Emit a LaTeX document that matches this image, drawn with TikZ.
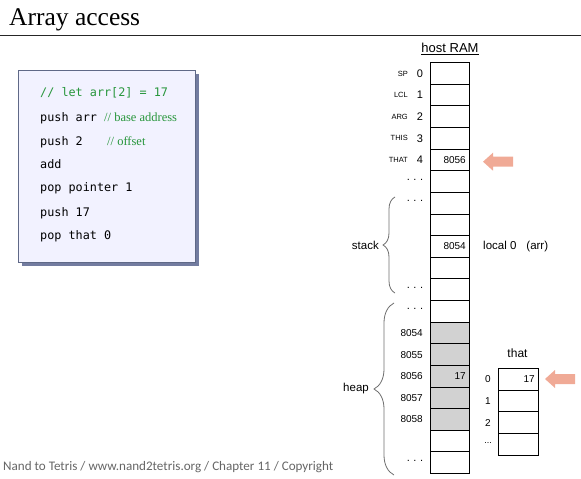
\documentclass[tikz,border=0pt]{standalone}
\usepackage{fontspec}
\setmainfont{Liberation Serif}
\setsansfont{Liberation Sans}
\setmonofont{DejaVu Sans Mono}
\newfontfamily\footfont{Carlito}
\usetikzlibrary{decorations.pathreplacing,shadows}

\definecolor{boxfill}{RGB}{242,242,255}
\definecolor{boxline}{RGB}{95,105,135}
\definecolor{boxshadow}{RGB}{100,110,150}
\definecolor{codegreen}{RGB}{40,150,60}
\definecolor{arrowpink}{RGB}{240,170,150}
\definecolor{heapgray}{RGB}{210,210,210}
\definecolor{bracegray}{RGB}{110,110,110}

\tikzset{
  ramcell/.style={draw=black, line width=1pt, minimum width=39pt, minimum height=21.62pt, inner sep=0pt, outer sep=0pt},
  thatcell/.style={draw=black, line width=1pt, minimum width=40pt, minimum height=21.7pt, inner sep=0pt, outer sep=0pt},
  codeline/.style={anchor=base west, inner sep=0pt, font=\ttfamily\fontsize{11.8}{12}\selectfont},
  comment/.style={anchor=base west, inner sep=0pt, text=codegreen, font=\rmfamily\fontsize{12.5}{13}\selectfont},
  regname/.style={anchor=east, inner sep=0pt, font=\sffamily\fontsize{7.5}{8}\selectfont},
  regnum/.style={inner sep=0pt, font=\sffamily\fontsize{11}{12}\selectfont},
  addr/.style={anchor=east, inner sep=0pt, font=\sffamily\fontsize{10}{11}\selectfont},
  cellval/.style={anchor=east, inner sep=0pt, font=\sffamily\fontsize{10}{11}\selectfont},
  dots/.style={inner sep=0pt, font=\sffamily\fontsize{11}{12}\selectfont},
  biglabel/.style={inner sep=0pt, font=\sffamily\fontsize{11.5}{12}\selectfont},
  membrace/.style={draw=bracegray, line width=0.8pt, decorate},
}

\newcommand{\threedots}{.\hspace{3.5pt}.\hspace{3.5pt}.}
% left-pointing block arrow whose tip sits at #1
\newcommand{\pointerarrow}[1]{%
  \fill[arrowpink] (#1) -- ++(10,-9) -- ++(0,4) -- ++(20,0) -- ++(0,10) -- ++(-20,0) -- ++(0,4) -- cycle;}

\begin{document}
\begin{tikzpicture}[x=1pt,y=-1pt]
\useasboundingbox (0,0) rectangle (581,479);

% title and rule
\node[anchor=base west, inner sep=0pt, font=\rmfamily\fontsize{25.5}{26}\selectfont] (title) at (9,25.5) {Array access};
\draw[line width=1.3pt, black!85] (0,35.5) -- (581,35.5);

% code box
\node[draw=boxline, line width=1pt, fill=boxfill, minimum width=177pt, minimum height=192pt,
      drop shadow={shadow xshift=3.5pt, shadow yshift=-3.5pt, fill=boxshadow, opacity=0.9}] (code) at (106.5,166) {};

\node[codeline, text=codegreen] (c1) at (40,96) {// let arr[2] = 17};
\node[codeline] (c2) at (40,121) {push arr};
\node[comment] (c2c) at (104,121) {// base address};
\node[codeline] (c3) at (40,145) {push 2};
\node[comment] (c3c) at (107,145) {// offset};
\node[codeline] (c4) at (40,168) {add};
\node[codeline] (c5) at (40,191) {pop pointer 1};
\node[codeline] (c6) at (40,216) {push 17};
\node[codeline] (c7) at (40,239) {pop that 0};

% host RAM column
\node[inner sep=0pt, font=\sffamily\fontsize{13}{14}\selectfont] (ramtitle) at (450,49) {\underline{host RAM}};
\foreach \i in {0,...,18}{
  \pgfmathsetmacro{\yy}{62.7+21.62*\i+10.81}
  \ifnum\i>11 \ifnum\i<17
    \node[ramcell, fill=heapgray] (r\i) at (449.5,\yy) {};
  \else
    \node[ramcell] (r\i) at (449.5,\yy) {};
  \fi\else
    \node[ramcell] (r\i) at (449.5,\yy) {};
  \fi
}

% pointer registers
\foreach \i/\n in {0/SP,1/LCL,2/ARG,3/THIS,4/THAT}{
  \node[regname] (rn\i) at ([xshift=-22pt]r\i.west) {\n};
  \node[regnum] (ri\i) at ([xshift=-10pt]r\i.west) {\i};
}
\node[cellval] (v4) at ([xshift=-3pt]r4.east) {8056};
\node[dots] (d5) at ([xshift=-15pt,yshift=2pt]r5.west) {\threedots};

% stack segment
\node[dots] (d6) at ([xshift=-15pt,yshift=2pt]r6.west) {\threedots};
\node[dots] (d10) at ([xshift=-15pt,yshift=2pt]r10.west) {\threedots};
\node[cellval] (v8) at ([xshift=-3pt]r8.east) {8054};
\node[biglabel, anchor=west] (loc) at ([xshift=14pt]r8.east) {local 0\hspace{10pt}(arr)};
\coordinate (sb) at (395,293);
\coordinate (st) at (395,197);
\draw[membrace, decoration={brace, amplitude=12pt}] (sb) -- (st);
\node[biglabel, anchor=east] (stack) at (379,245.5) {stack};

% heap segment
\node[dots] (d11) at ([xshift=-15pt,yshift=2pt]r11.west) {\threedots};
\node[dots] (d18) at ([xshift=-15pt,yshift=2pt]r18.west) {\threedots};
\foreach \i/\a in {12/8054,13/8055,14/8056,15/8057,16/8058}{
  \node[addr] (a\i) at ([xshift=-7pt]r\i.west) {\a};
}
\node[cellval] (v14) at ([xshift=-3pt]r14.east) {17};
\coordinate (hb) at (394,475);
\coordinate (ht) at (394,303);
\draw[membrace, decoration={brace, amplitude=20pt}] (hb) -- (ht);
\node[biglabel, anchor=east] (heap) at (369,389) {heap};

% that segment
\node[inner sep=0pt, font=\sffamily\fontsize{12}{13}\selectfont] (thatlbl) at (517.5,353) {that};
\foreach \i in {0,...,3}{
  \pgfmathsetmacro{\yy}{368.3+21.7*\i+10.85}
  \node[thatcell] (t\i) at (518,\yy) {};
}
\foreach \i in {0,1,2}{
  \node[regnum, font=\sffamily\fontsize{10}{11}\selectfont] (ti\i) at ([xshift=-10pt]t\i.west) {\i};
}
\node[inner sep=0pt, font=\sffamily\fontsize{9}{10}\selectfont] (ti3) at ([xshift=-10pt,yshift=1pt]t3.west) {...};
\node[cellval] (tv0) at ([xshift=-3pt]t0.east) {17};

% pointer arrows
\coordinate (p1) at (483,161.7);
\coordinate (p2) at (545,379);
\pointerarrow{p1}
\pointerarrow{p2}

% footer
\node[anchor=base west, inner sep=0pt, text=black!60, font=\footfont\fontsize{13.1}{14}\selectfont] (foot) at (3,470) {Nand to Tetris / www.nand2tetris.org / Chapter 11 / Copyright};
\end{tikzpicture}
\end{document}
